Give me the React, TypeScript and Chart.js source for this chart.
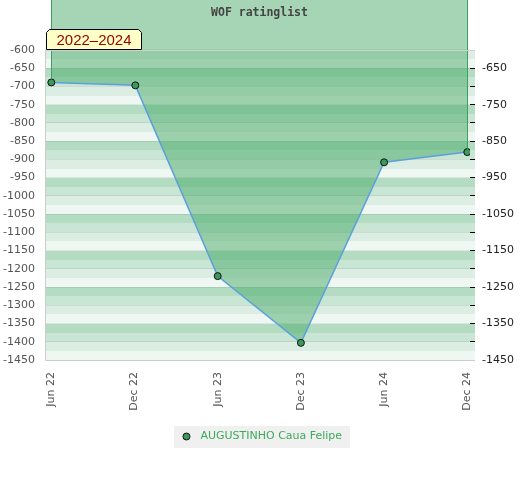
import React, { useEffect, useRef } from 'react';
import { Chart, registerables } from 'chart.js';

Chart.register(...registerables);

// ---- data ----
const xLabels = ['Jun 22', 'Dec 22', 'Jun 23', 'Dec 23', 'Jun 24', 'Dec 24'];
const xPositions = [0, 1.01, 2, 3, 4, 5];
const ratings = [-689, -697, -1220, -1403, -908, -880];
const leftTickValues = [
  -600, -650, -700, -750, -800, -850, -900, -950, -1000, -1050, -1100, -1150, -1200, -1250,
  -1300, -1350, -1400, -1450,
];
const rightTickValues = [
  -650, -700, -750, -800, -850, -900, -950, -1000, -1050, -1100, -1150, -1200, -1250, -1300,
  -1350, -1400, -1450,
];
const rightLabelValues = [-650, -750, -850, -950, -1050, -1150, -1250, -1350, -1450];
const playerName = 'AUGUSTINHO Caua Felipe';
const chartTitle = 'WOF ratinglist';
const periodLabel = '2022–2024';

// ---- ranges / styles ----
const Y_MIN = -1450;
const Y_TOP_VISIBLE = -600;
const Y_MAX = -463; // extends plot area up to the top of the canvas
const X_MIN = -0.0757;
const X_MAX = 5.0325;
const BAND_STEP = 25;
const bandColors = ['#b3dcc2', '#c9e6d4', '#dcede3', '#eff7f2'];
const FONT = "'DejaVu Sans', sans-serif";

const decorPlugin = {
  id: 'decor',
  beforeDraw(chart: any) {
    const { ctx, chartArea, scales } = chart;
    const y = scales.y;
    ctx.save();
    // legend background
    const legend = chart.legend;
    if (legend && legend.legendHitBoxes && legend.legendHitBoxes[0]) {
      const hb = legend.legendHitBoxes[0];
      const cy = hb.top + hb.height / 2;
      ctx.fillStyle = '#f0f0f0';
      ctx.fillRect(Math.round(hb.left - 4), Math.round(cy - 11), Math.round(hb.width + 12), 22);
    }
    // bands
    const left = chartArea.left;
    const right = chartArea.right + 5;
    for (let v = Y_TOP_VISIBLE; v > Y_MIN; v -= BAND_STEP) {
      const top = Math.round(y.getPixelForValue(v));
      const bot = Math.round(y.getPixelForValue(v - BAND_STEP));
      const idx = ((((-950 - v) / BAND_STEP) % 4) + 4) % 4;
      ctx.fillStyle = bandColors[idx];
      ctx.fillRect(left, top, right - left, bot - top);
    }
    ctx.restore();
  },
  afterDatasetsDraw(chart: any) {
    const { ctx, chartArea, scales } = chart;
    const y = scales.y;
    const meta = chart.getDatasetMeta(0);
    ctx.save();
    // vertical edges of the filled region
    ctx.strokeStyle = '#3f9f60';
    ctx.lineWidth = 1;
    const pts = meta.data;
    [pts[0], pts[pts.length - 1]].forEach((p: any) => {
      const x = Math.round(p.x) + 0.5;
      ctx.beginPath();
      ctx.moveTo(x, chartArea.top);
      ctx.lineTo(x, p.y - 3.5);
      ctx.stroke();
    });
    // frame lines
    const yTop = Math.round(y.getPixelForValue(Y_TOP_VISIBLE)) + 0.5;
    const yBot = Math.round(y.getPixelForValue(Y_MIN)) + 0.5;
    const xl = Math.round(chartArea.left) + 0.5;
    ctx.strokeStyle = '#d2d2d2';
    ctx.beginPath();
    ctx.moveTo(chartArea.left, yTop);
    ctx.lineTo(chartArea.right + 5, yTop);
    ctx.stroke();
    ctx.strokeStyle = '#cccccc';
    ctx.beginPath();
    ctx.moveTo(xl, yTop);
    ctx.lineTo(xl, yBot);
    ctx.lineTo(chartArea.right + 5, yBot);
    ctx.stroke();
    ctx.restore();
  },
  afterDraw(chart: any) {
    const { ctx, chartArea, scales } = chart;
    const y = scales.y;
    ctx.save();
    // title
    ctx.font = "bold 11.5px 'DejaVu Sans Mono', monospace";
    ctx.fillStyle = '#444444';
    ctx.textAlign = 'center';
    ctx.textBaseline = 'middle';
    ctx.fillText(chartTitle, (chartArea.left + chartArea.right) / 2 + 2, 13);
    // period badge
    const bottom = Math.round(y.getPixelForValue(Y_TOP_VISIBLE)) - 0.5;
    const l = Math.round(chartArea.left) + 1.5;
    const r = l + 95;
    const t = bottom - 20;
    ctx.beginPath();
    ctx.moveTo(l, bottom);
    ctx.lineTo(l, t + 3);
    ctx.lineTo(l + 3, t);
    ctx.lineTo(r - 3, t);
    ctx.lineTo(r, t + 3);
    ctx.lineTo(r, bottom);
    ctx.closePath();
    ctx.fillStyle = '#ffffc8';
    ctx.fill();
    ctx.strokeStyle = '#000000';
    ctx.lineWidth = 1;
    ctx.stroke();
    ctx.font = "15px 'Liberation Sans', Arial, sans-serif";
    ctx.fillStyle = '#990000';
    ctx.textAlign = 'center';
    ctx.textBaseline = 'middle';
    ctx.fillText(periodLabel, (l + r) / 2, (t + bottom) / 2 + 1);
    ctx.restore();
  },
};

export default function App() {
  const canvasRef = useRef<HTMLCanvasElement | null>(null);

  useEffect(() => {
    const canvas = canvasRef.current;
    if (!canvas) return;

    const dot = document.createElement('canvas');
    dot.width = 9;
    dot.height = 9;
    const dctx = dot.getContext('2d');
    if (dctx) {
      dctx.beginPath();
      dctx.arc(4.5, 4.5, 3.5, 0, Math.PI * 2);
      dctx.fillStyle = '#3a9a5a';
      dctx.fill();
      dctx.strokeStyle = '#111111';
      dctx.lineWidth = 1;
      dctx.stroke();
    }

    const chart = new Chart(canvas, {
      type: 'line',
      data: {
        datasets: [
          {
            label: playerName,
            data: xPositions.map((x, i) => ({ x, y: ratings[i] })),
            borderColor: '#5ba0dc',
            borderWidth: 1.5,
            backgroundColor: 'rgba(71,169,104,0.49)',
            fill: 'end',
            tension: 0,
            pointRadius: 3.5,
            pointBackgroundColor: '#3a9a5a',
            pointBorderColor: '#111111',
            pointBorderWidth: 1,
          },
        ],
      },
      options: {
        responsive: false,
        animation: false,
        layout: { autoPadding: false, padding: { top: 0, left: 0, right: 0, bottom: 28 } },
        plugins: {
          tooltip: { enabled: false },
          title: { display: false },
          legend: {
            display: true,
            position: 'bottom',
            labels: {
              usePointStyle: true,
              pointStyleWidth: 17,
              padding: 10,
              color: '#3caa5c',
              font: { size: 11, family: FONT },
              generateLabels: (c: any) =>
                c.data.datasets.map((ds: any, i: number) => ({
                  text: ds.label,
                  fillStyle: '#3a9a5a',
                  strokeStyle: '#111111',
                  lineWidth: 1,
                  pointStyle: dot,
                  fontColor: '#3caa5c',
                  hidden: false,
                  datasetIndex: i,
                })),
            },
          },
        },
        scales: {
          x: {
            type: 'linear',
            min: X_MIN,
            max: X_MAX,
            afterBuildTicks: (s: any) => {
              s.ticks = xLabels.map((_, i) => ({ value: i }));
            },
            afterFit: (s: any) => {
              s.height = 61;
              s.paddingLeft = 0;
              s.paddingRight = 0;
            },
            grid: { display: false, drawTicks: false },
            border: { display: false },
            ticks: {
              autoSkip: false,
              minRotation: 90,
              maxRotation: 90,
              padding: 12,
              color: '#555555',
              font: { size: 11, family: FONT },
              callback: (v: any) => xLabels[Math.round(Number(v))] ?? '',
            },
          },
          y: {
            type: 'linear',
            position: 'left',
            min: Y_MIN,
            max: Y_MAX,
            afterBuildTicks: (s: any) => {
              s.ticks = leftTickValues.map((v) => ({ value: v }));
            },
            afterFit: (s: any) => {
              s.width = 45;
              s.paddingTop = 0;
              s.paddingBottom = 0;
            },
            grid: { color: 'rgba(0,0,0,0.07)', drawTicks: false, lineWidth: 1 },
            border: { display: false },
            ticks: {
              padding: 10,
              color: '#555555',
              font: { size: 11, family: FONT },
              callback: (v: any) => String(v),
            },
          },
          y2: {
            type: 'linear',
            position: 'right',
            min: Y_MIN,
            max: Y_MAX,
            afterBuildTicks: (s: any) => {
              s.ticks = rightTickValues.map((v) => ({ value: v }));
            },
            afterFit: (s: any) => {
              s.width = 50;
              s.paddingTop = 0;
              s.paddingBottom = 0;
            },
            grid: {
              drawOnChartArea: false,
              drawTicks: true,
              tickLength: 5,
              color: '#000000',
              lineWidth: 1,
            },
            border: { display: false },
            ticks: {
              padding: 7,
              color: '#222222',
              font: { size: 11, family: FONT },
              callback: (v: any) => (rightLabelValues.includes(Number(v)) ? String(v) : ''),
            },
          },
        },
      },
      plugins: [decorPlugin],
    } as any);

    return () => chart.destroy();
  }, []);

  return (
    <div style={{ position: 'absolute', left: 0, top: 0, width: 520, height: 480, background: '#ffffff' }}>
      <canvas ref={canvasRef} width={520} height={480} style={{ display: 'block' }} />
    </div>
  );
}
